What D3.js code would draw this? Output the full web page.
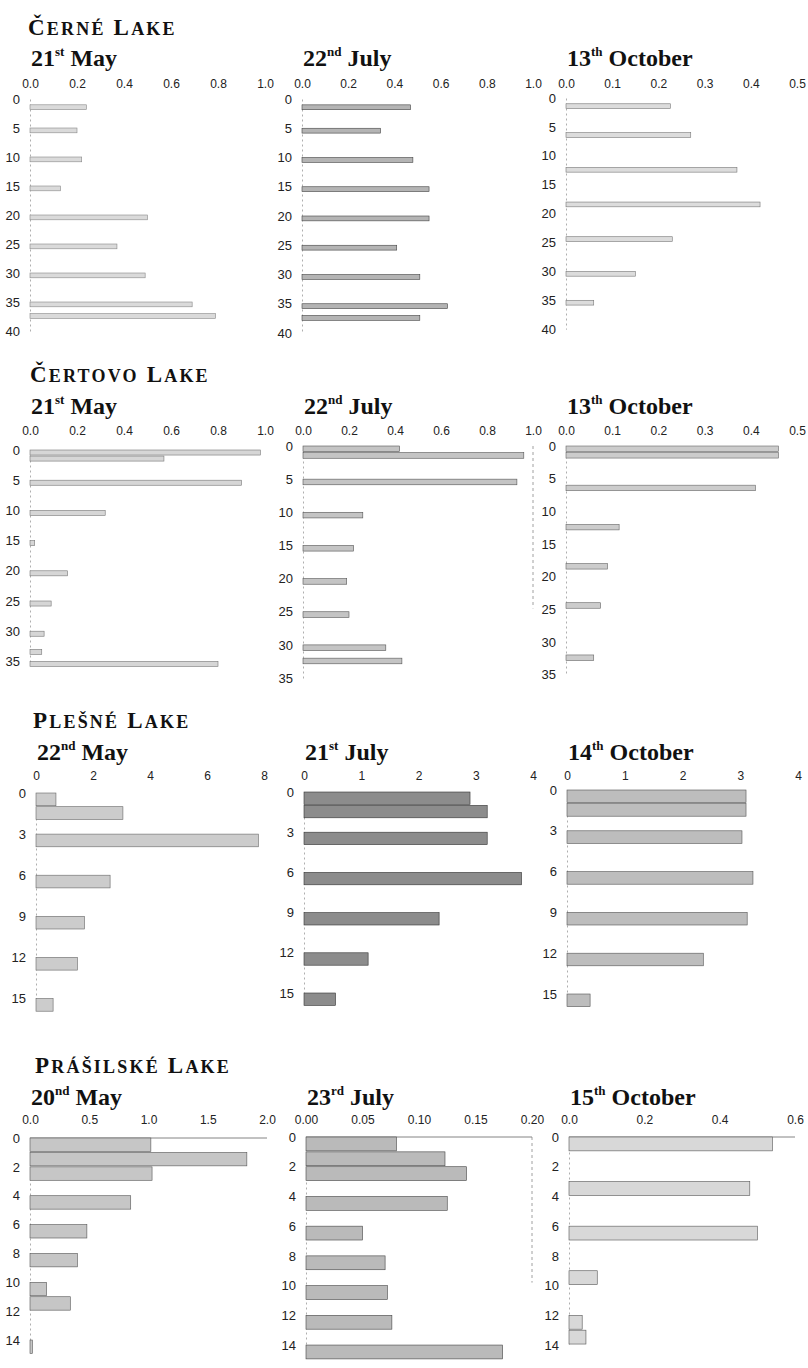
<!DOCTYPE html>
<html>
<head>
<meta charset="utf-8">
<script src="https://cdn.jsdelivr.net/npm/d3@7"></script>
<style>
  body { margin: 0; background: #fff; }
  svg { display: block; }
  .tick text { font-family: "Liberation Sans", Arial, sans-serif; fill: #222; }
</style>
</head>
<body>
<div id="chart"></div>
<script>
// lake names and sampling dates
var lakes = ["Černé Lake", "Čertovo Lake", "Plešné Lake", "Prášilské Lake"];
var dates = ["21st May", "22nd July", "13th October",
             "21st May", "22nd July", "13th October",
             "22nd May", "21st July", "14th October",
             "20nd May", "23rd July", "15th October"];

// axis ticks
var xTicksUnit = [0, 0.2, 0.4, 0.6, 0.8, 1.0];
var xTicksHalf = [0, 0.1, 0.2, 0.3, 0.4, 0.5];
var xTicksPlesneMay = [0, 2, 4, 6, 8];
var xTicksPlesne = [0, 1, 2, 3, 4];
var xTicksPrasMay = [0, 0.5, 1.0, 1.5, 2.0];
var xTicksPrasJul = [0, 0.05, 0.10, 0.15, 0.20];
var xTicksPrasOct = [0, 0.2, 0.4, 0.6];
var depthTicksCerne = [0, 5, 10, 15, 20, 25, 30, 35, 40];
var depthTicksCertovo = [0, 5, 10, 15, 20, 25, 30, 35];
var depthTicksPlesne = [0, 3, 6, 9, 12, 15];
var depthTicksPras = [0, 2, 4, 6, 8, 10, 12, 14];

// sample depth (m) and value of every bar
var cerneMayDepth = [1, 5, 10, 15, 20, 25, 30, 35, 37];
var cerneMayValue = [0.24, 0.20, 0.22, 0.13, 0.50, 0.37, 0.49, 0.69, 0.79];
var cerneJulDepth = [1, 5, 10, 15, 20, 25, 30, 35, 37];
var cerneJulValue = [0.47, 0.34, 0.48, 0.55, 0.55, 0.41, 0.51, 0.63, 0.51];
var cerneOctDepth = [1, 6, 12, 18, 24, 30, 35];
var cerneOctValue = [0.226, 0.27, 0.37, 0.42, 0.23, 0.15, 0.06];

var certovoMayDepth = [0, 1, 5, 10, 15, 20, 25, 30, 33, 35];
var certovoMayValue = [0.98, 0.57, 0.90, 0.32, 0.02, 0.16, 0.09, 0.06, 0.05, 0.80];
var certovoJulDepth = [0, 1, 5, 10, 15, 20, 25, 30, 32];
var certovoJulValue = [0.42, 0.96, 0.93, 0.26, 0.22, 0.19, 0.20, 0.36, 0.43];
var certovoOctDepth = [0, 1, 6, 12, 18, 24, 32];
var certovoOctValue = [0.46, 0.46, 0.41, 0.115, 0.09, 0.075, 0.06];

var plesneMayDepth = [0, 1, 3, 6, 9, 12, 15];
var plesneMayValue = [0.7, 3.05, 7.8, 2.6, 1.7, 1.45, 0.6];
var plesneJulDepth = [0, 1, 3, 6, 9, 12, 15];
var plesneJulValue = [2.9, 3.2, 3.2, 3.8, 2.36, 1.12, 0.55];
var plesneOctDepth = [0, 1, 3, 6, 9, 12, 15];
var plesneOctValue = [3.1, 3.1, 3.03, 3.22, 3.12, 2.36, 0.4];

var prasMayDepth = [0, 1, 2, 4, 6, 8, 10, 11, 14];
var prasMayValue = [1.02, 1.83, 1.03, 0.85, 0.48, 0.40, 0.14, 0.34, 0.02];
var prasJulDepth = [0, 1, 2, 4, 6, 8, 10, 12, 14];
var prasJulValue = [0.08, 0.123, 0.142, 0.125, 0.05, 0.07, 0.072, 0.076, 0.174];
var prasOctDepth = [0, 3, 6, 9, 12, 13];
var prasOctValue = [0.54, 0.48, 0.50, 0.075, 0.035, 0.045];

var panels = [
  { depth: cerneMayDepth, value: cerneMayValue, xTicks: xTicksUnit, yTicks: depthTicksCerne, fmt: ".1f" },
  { depth: cerneJulDepth, value: cerneJulValue, xTicks: xTicksUnit, yTicks: depthTicksCerne, fmt: ".1f" },
  { depth: cerneOctDepth, value: cerneOctValue, xTicks: xTicksHalf, yTicks: depthTicksCerne, fmt: ".1f" },
  { depth: certovoMayDepth, value: certovoMayValue, xTicks: xTicksUnit, yTicks: depthTicksCertovo, fmt: ".1f" },
  { depth: certovoJulDepth, value: certovoJulValue, xTicks: xTicksUnit, yTicks: depthTicksCertovo, fmt: ".1f" },
  { depth: certovoOctDepth, value: certovoOctValue, xTicks: xTicksHalf, yTicks: depthTicksCertovo, fmt: ".1f" },
  { depth: plesneMayDepth, value: plesneMayValue, xTicks: xTicksPlesneMay, yTicks: depthTicksPlesne, fmt: "d" },
  { depth: plesneJulDepth, value: plesneJulValue, xTicks: xTicksPlesne, yTicks: depthTicksPlesne, fmt: "d" },
  { depth: plesneOctDepth, value: plesneOctValue, xTicks: xTicksPlesne, yTicks: depthTicksPlesne, fmt: "d" },
  { depth: prasMayDepth, value: prasMayValue, xTicks: xTicksPrasMay, yTicks: depthTicksPras, fmt: ".1f" },
  { depth: prasJulDepth, value: prasJulValue, xTicks: xTicksPrasJul, yTicks: depthTicksPras, fmt: ".2f" },
  { depth: prasOctDepth, value: prasOctValue, xTicks: xTicksPrasOct, yTicks: depthTicksPras, fmt: ".1f" }
];

// page layout (pixels) and bar look, one entry per panel
var frames = [
  { x0: 30,  x1: 265, y0: 99,   k: 5.8,   fill: "#dadada", stroke: "#888" },
  { x0: 302, x1: 533, y0: 99,   k: 5.85,  fill: "#b4b4b4", stroke: "#444" },
  { x0: 566, x1: 797, y0: 98,   k: 5.78,  fill: "#dcdcdc", stroke: "#777" },
  { x0: 30,  x1: 265, y0: 450,  k: 6.04,  fill: "#d6d6d6", stroke: "#777" },
  { x0: 303, x1: 533, y0: 446,  k: 6.63,  fill: "#c4c4c4", stroke: "#555", rightLine: true },
  { x0: 566, x1: 797, y0: 446,  k: 6.53,  fill: "#cccccc", stroke: "#666" },
  { x0: 36,  x1: 264, y0: 793,  k: 13.7,  fill: "#cccccc", stroke: "#666" },
  { x0: 304, x1: 533, y0: 792,  k: 13.4,  fill: "#8c8c8c", stroke: "#333" },
  { x0: 567, x1: 798, y0: 790,  k: 13.6,  fill: "#bdbdbd", stroke: "#555" },
  { x0: 30,  x1: 267, y0: 1138, k: 14.43, fill: "#c6c6c6", stroke: "#555", topLine: true },
  { x0: 306, x1: 532, y0: 1137, k: 14.86, fill: "#bababa", stroke: "#444", topLine: true, rightLine: true },
  { x0: 569, x1: 795, y0: 1137, k: 14.86, fill: "#d8d8d8", stroke: "#555", topLine: true }
];
var rows = [
  { titleX: 28, titleY: 35,   dateY: 66,   tickY: 88 },
  { titleX: 30, titleY: 382,  dateY: 414,  tickY: 435 },
  { titleX: 33, titleY: 728,  dateY: 760,  tickY: 780 },
  { titleX: 35, titleY: 1073, dateY: 1105, tickY: 1124 }
];

var width = 808, height = 1368;

var svg = d3.select("#chart").append("svg")
    .attr("width", width)
    .attr("height", height);

// lake titles in small caps: first letter of each word big, the rest smaller
rows.forEach(function(r, i) {
  var t = svg.append("text")
      .attr("x", r.titleX)
      .attr("y", r.titleY)
      .attr("font-family", "'Liberation Serif', 'Times New Roman', serif")
      .attr("font-weight", "bold")
      .attr("letter-spacing", 2.2)
      .attr("fill", "#111");
  lakes[i].split(" ").forEach(function(word, w) {
    t.append("tspan").attr("font-size", 23).text((w > 0 ? " " : "") + word[0].toUpperCase());
    t.append("tspan").attr("font-size", 18).text(word.slice(1).toUpperCase());
  });
});

panels.forEach(function(p, i) {
  var f = frames[i];
  var r = rows[Math.floor(i / 3)];
  var xMax = p.xTicks[p.xTicks.length - 1];
  var yMax = p.yTicks[p.yTicks.length - 1];

  var x = d3.scaleLinear()
      .domain([0, xMax])
      .range([f.x0, f.x1]);

  var y = d3.scaleLinear()
      .domain([0, yMax])
      .range([f.y0, f.y0 + f.k * yMax]);

  var g = svg.append("g");

  // date heading with superscript ordinal
  var m = dates[i].match(/^(\d+)(\D+?) (.*)$/);
  var dt = g.append("text")
      .attr("x", f.x0 + 1)
      .attr("y", r.dateY)
      .attr("font-family", "'Liberation Serif', 'Times New Roman', serif")
      .attr("font-weight", "bold")
      .attr("font-size", 24)
      .attr("fill", "#111");
  dt.append("tspan").text(m[1]);
  dt.append("tspan").attr("font-size", 13).attr("dy", -10).text(m[2]);
  dt.append("tspan").attr("dy", 10).text(" " + m[3]);

  // top value axis (labels only)
  g.append("g")
      .attr("transform", "translate(0," + r.tickY + ")")
      .call(d3.axisTop(x).tickValues(p.xTicks).tickSize(0).tickPadding(0)
        .tickFormat(d3.format(p.fmt)))
      .call(function(a) { a.select(".domain").remove(); })
      .selectAll("text")
      .attr("font-size", 12);

  // depth axis
  var ya = g.append("g")
      .attr("transform", "translate(" + f.x0 + ",0)")
      .call(d3.axisLeft(y).tickValues(p.yTicks).tickSize(0).tickPadding(10));
  ya.select(".domain")
      .attr("stroke", "#999")
      .attr("stroke-width", 0.8)
      .attr("stroke-dasharray", "2,3");
  ya.selectAll("text").attr("font-size", 13);

  if (f.topLine) {
    g.append("line")
        .attr("x1", x(0)).attr("x2", x(xMax))
        .attr("y1", y(0)).attr("y2", y(0))
        .attr("stroke", "#666")
        .attr("stroke-width", 0.8);
  }
  if (f.rightLine) {
    g.append("line")
        .attr("x1", x(xMax)).attr("x2", x(xMax))
        .attr("y1", y(0)).attr("y2", y(yMax * 0.7))
        .attr("stroke", "#888")
        .attr("stroke-width", 0.8)
        .attr("stroke-dasharray", "3,3");
  }

  // bars, one metre thick
  var data = p.depth.map(function(d, j) { return { depth: d, value: p.value[j] }; });
  g.selectAll("rect.bar")
      .data(data)
      .enter()
      .append("rect")
      .attr("class", "bar")
      .attr("x", x(0))
      .attr("y", function(d) { return y(d.depth); })
      .attr("width", function(d) { return x(d.value) - x(0); })
      .attr("height", function(d) { return Math.max(1.5, y(d.depth + 1) - y(d.depth) - 1); })
      .attr("fill", f.fill)
      .attr("stroke", f.stroke)
      .attr("stroke-width", 0.6);
});
</script>
</body>
</html>
